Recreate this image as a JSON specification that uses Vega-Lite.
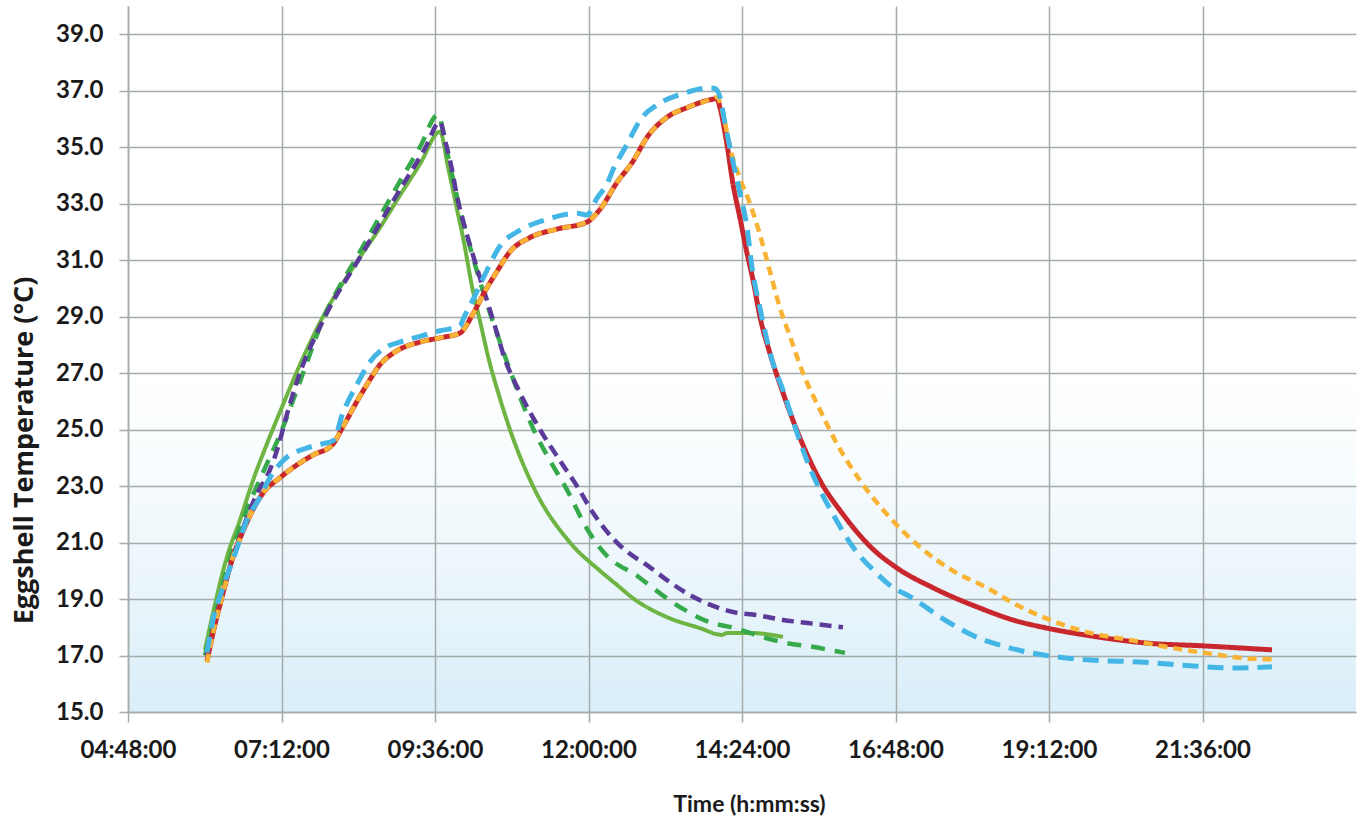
{
  "$schema": "https://vega.github.io/schema/vega-lite/v6.json",
  "width": 1228,
  "height": 706,
  "autosize": {"type": "none"},
  "padding": {"left": 128, "top": 6, "right": 9, "bottom": 106},
  "background": "#ffffff",
  "config": {
    "view": {"stroke": null, "fill": {"gradient": "linear", "x1": 0, "y1": 0, "x2": 0, "y2": 1, "stops": [{"offset": 0, "color": "#ffffff"}, {"offset": 0.5, "color": "#ffffff"}, {"offset": 0.62, "color": "#fafdfe"}, {"offset": 0.75, "color": "#f0f8fc"}, {"offset": 0.88, "color": "#e5f3fa"}, {"offset": 1, "color": "#d9eef8"}]}},
    "axis": {"grid": true, "gridColor": "#a4acac", "gridWidth": 1.5, "domainColor": "#a4acac", "domainWidth": 1.5, "tickColor": "#a4acac", "tickWidth": 1.5, "labelFont": "Lato", "labelFontWeight": "bold", "labelFontSize": 24, "labelColor": "#1a1a1a", "titleFont": "Lato", "titleFontWeight": "bold", "titleColor": "#1a1a1a", "labelFlush": false, "labelOverlap": false}
  },
  "data": {"values": [
    {"s":"S1","t":6.004,"v":17.2},{"s":"S1","t":6.129,"v":18.5},{"s":"S1","t":6.348,"v":20.5},{"s":"S1","t":6.551,"v":21.8},{"s":"S1","t":6.754,"v":23.2},{"s":"S1","t":6.973,"v":24.5},{"s":"S1","t":7.208,"v":25.8},{"s":"S1","t":7.489,"v":27.3},{"s":"S1","t":7.849,"v":29.0},{"s":"S1","t":8.396,"v":31.0},{"s":"S1","t":8.740,"v":32.15},{"s":"S1","t":9.053,"v":33.3},{"s":"S1","t":9.365,"v":34.4},{"s":"S1","t":9.678,"v":35.55},{"s":"S1","t":9.803,"v":34.3},{"s":"S1","t":9.944,"v":32.8},{"s":"S1","t":10.038,"v":31.8},{"s":"S1","t":10.194,"v":29.9},{"s":"S1","t":10.303,"v":28.85},{"s":"S1","t":10.429,"v":27.6},{"s":"S1","t":10.616,"v":26.1},{"s":"S1","t":10.772,"v":25.0},{"s":"S1","t":11.132,"v":23.0},{"s":"S1","t":11.711,"v":21.0},{"s":"S1","t":12.180,"v":20.0},{"s":"S1","t":12.445,"v":19.5},{"s":"S1","t":12.695,"v":19.03},{"s":"S1","t":13.227,"v":18.36},{"s":"S1","t":13.743,"v":17.97},{"s":"S1","t":14.087,"v":17.73},{"s":"S1","t":14.165,"v":17.8},{"s":"S1","t":14.525,"v":17.8},{"s":"S1","t":15.041,"v":17.66},
    {"s":"S2","t":6.004,"v":17.0},{"s":"S2","t":6.160,"v":18.4},{"s":"S2","t":6.363,"v":20.2},{"s":"S2","t":6.629,"v":22.0},{"s":"S2","t":6.895,"v":23.4},{"s":"S2","t":7.208,"v":25.0},{"s":"S2","t":7.489,"v":26.7},{"s":"S2","t":7.849,"v":28.9},{"s":"S2","t":8.427,"v":31.3},{"s":"S2","t":8.740,"v":32.55},{"s":"S2","t":9.053,"v":33.8},{"s":"S2","t":9.365,"v":35.0},{"s":"S2","t":9.647,"v":36.15},{"s":"S2","t":9.725,"v":35.6},{"s":"S2","t":9.803,"v":34.7},{"s":"S2","t":9.913,"v":33.55},{"s":"S2","t":9.991,"v":32.8},{"s":"S2","t":10.100,"v":31.85},{"s":"S2","t":10.225,"v":30.85},{"s":"S2","t":10.303,"v":30.25},{"s":"S2","t":10.413,"v":29.45},{"s":"S2","t":10.569,"v":28.4},{"s":"S2","t":10.694,"v":27.6},{"s":"S2","t":10.772,"v":27.1},{"s":"S2","t":10.929,"v":26.15},{"s":"S2","t":11.163,"v":24.9},{"s":"S2","t":11.398,"v":23.9},{"s":"S2","t":11.632,"v":23.0},{"s":"S2","t":12.0,"v":21.4},{"s":"S2","t":12.258,"v":20.6},{"s":"S2","t":12.773,"v":19.8},{"s":"S2","t":13.149,"v":19.15},{"s":"S2","t":13.477,"v":18.65},{"s":"S2","t":13.868,"v":18.2},{"s":"S2","t":14.290,"v":17.97},{"s":"S2","t":14.728,"v":17.65},{"s":"S2","t":15.103,"v":17.44},{"s":"S2","t":15.526,"v":17.3},{"s":"S2","t":15.948,"v":17.12},{"s":"S2","t":16.010,"v":17.1},
    {"s":"S3","t":6.035,"v":17.0},{"s":"S3","t":6.160,"v":18.2},{"s":"S3","t":6.363,"v":19.9},{"s":"S3","t":6.629,"v":21.7},{"s":"S3","t":6.833,"v":22.8},{"s":"S3","t":7.005,"v":23.5},{"s":"S3","t":7.161,"v":24.5},{"s":"S3","t":7.255,"v":25.3},{"s":"S3","t":7.442,"v":26.7},{"s":"S3","t":7.880,"v":29.0},{"s":"S3","t":8.427,"v":31.1},{"s":"S3","t":9.053,"v":33.5},{"s":"S3","t":9.444,"v":34.95},{"s":"S3","t":9.678,"v":35.9},{"s":"S3","t":9.756,"v":35.25},{"s":"S3","t":9.866,"v":34.2},{"s":"S3","t":9.944,"v":33.25},{"s":"S3","t":10.038,"v":32.4},{"s":"S3","t":10.178,"v":31.3},{"s":"S3","t":10.272,"v":30.6},{"s":"S3","t":10.382,"v":29.8},{"s":"S3","t":10.491,"v":29.0},{"s":"S3","t":10.585,"v":28.3},{"s":"S3","t":10.663,"v":27.7},{"s":"S3","t":10.929,"v":26.3},{"s":"S3","t":11.242,"v":25.0},{"s":"S3","t":11.554,"v":23.9},{"s":"S3","t":11.820,"v":23.0},{"s":"S3","t":12.086,"v":22.0},{"s":"S3","t":12.445,"v":21.0},{"s":"S3","t":12.648,"v":20.6},{"s":"S3","t":12.914,"v":20.2},{"s":"S3","t":13.227,"v":19.67},{"s":"S3","t":13.540,"v":19.2},{"s":"S3","t":13.899,"v":18.8},{"s":"S3","t":14.259,"v":18.54},{"s":"S3","t":14.634,"v":18.43},{"s":"S3","t":15.041,"v":18.26},{"s":"S3","t":15.432,"v":18.15},{"s":"S3","t":15.979,"v":18.0},
    {"s":"S4","t":6.035,"v":16.8},{"s":"S4","t":6.129,"v":17.8},{"s":"S4","t":6.285,"v":19.2},{"s":"S4","t":6.442,"v":20.5},{"s":"S4","t":6.598,"v":21.4},{"s":"S4","t":6.739,"v":22.1},{"s":"S4","t":6.911,"v":22.75},{"s":"S4","t":7.177,"v":23.3},{"s":"S4","t":7.442,"v":23.75},{"s":"S4","t":7.692,"v":24.1},{"s":"S4","t":7.989,"v":24.45},{"s":"S4","t":8.161,"v":25.1},{"s":"S4","t":8.380,"v":26.0},{"s":"S4","t":8.537,"v":26.6},{"s":"S4","t":8.740,"v":27.3},{"s":"S4","t":8.975,"v":27.75},{"s":"S4","t":9.365,"v":28.1},{"s":"S4","t":9.678,"v":28.25},{"s":"S4","t":9.991,"v":28.42},{"s":"S4","t":10.194,"v":29.1},{"s":"S4","t":10.382,"v":29.9},{"s":"S4","t":10.569,"v":30.6},{"s":"S4","t":10.772,"v":31.3},{"s":"S4","t":11.085,"v":31.8},{"s":"S4","t":11.507,"v":32.1},{"s":"S4","t":11.976,"v":32.35},{"s":"S4","t":12.180,"v":32.8},{"s":"S4","t":12.445,"v":33.75},{"s":"S4","t":12.695,"v":34.5},{"s":"S4","t":12.915,"v":35.35},{"s":"S4","t":13.227,"v":36.06},{"s":"S4","t":13.540,"v":36.4},{"s":"S4","t":13.946,"v":36.7},{"s":"S4","t":14.009,"v":36.72},{"s":"S4","t":14.056,"v":36.4},{"s":"S4","t":14.165,"v":35.1},{"s":"S4","t":14.259,"v":33.7},{"s":"S4","t":14.368,"v":32.5},{"s":"S4","t":14.478,"v":31.25},{"s":"S4","t":14.572,"v":30.3},{"s":"S4","t":14.681,"v":29.0},{"s":"S4","t":14.837,"v":27.7},{"s":"S4","t":15.041,"v":26.3},{"s":"S4","t":15.307,"v":24.7},{"s":"S4","t":15.619,"v":23.2},{"s":"S4","t":15.979,"v":22.0},{"s":"S4","t":16.432,"v":20.8},{"s":"S4","t":16.823,"v":20.1},{"s":"S4","t":17.386,"v":19.4},{"s":"S4","t":18.121,"v":18.68},{"s":"S4","t":18.637,"v":18.26},{"s":"S4","t":19.168,"v":17.97},{"s":"S4","t":19.841,"v":17.7},{"s":"S4","t":20.732,"v":17.44},{"s":"S4","t":21.623,"v":17.34},{"s":"S4","t":22.686,"v":17.2},
    {"s":"S5","t":6.035,"v":16.75},{"s":"S5","t":6.129,"v":17.8},{"s":"S5","t":6.285,"v":19.2},{"s":"S5","t":6.442,"v":20.5},{"s":"S5","t":6.598,"v":21.4},{"s":"S5","t":6.739,"v":22.1},{"s":"S5","t":6.911,"v":22.75},{"s":"S5","t":7.177,"v":23.3},{"s":"S5","t":7.442,"v":23.75},{"s":"S5","t":7.692,"v":24.1},{"s":"S5","t":7.989,"v":24.45},{"s":"S5","t":8.161,"v":25.1},{"s":"S5","t":8.380,"v":26.0},{"s":"S5","t":8.537,"v":26.6},{"s":"S5","t":8.740,"v":27.3},{"s":"S5","t":8.975,"v":27.75},{"s":"S5","t":9.365,"v":28.1},{"s":"S5","t":9.678,"v":28.25},{"s":"S5","t":9.991,"v":28.42},{"s":"S5","t":10.194,"v":29.1},{"s":"S5","t":10.382,"v":29.9},{"s":"S5","t":10.569,"v":30.6},{"s":"S5","t":10.772,"v":31.3},{"s":"S5","t":11.085,"v":31.8},{"s":"S5","t":11.507,"v":32.1},{"s":"S5","t":11.976,"v":32.35},{"s":"S5","t":12.180,"v":32.8},{"s":"S5","t":12.445,"v":33.75},{"s":"S5","t":12.695,"v":34.5},{"s":"S5","t":12.915,"v":35.35},{"s":"S5","t":13.227,"v":36.06},{"s":"S5","t":13.540,"v":36.4},{"s":"S5","t":13.946,"v":36.72},{"s":"S5","t":14.009,"v":36.77},{"s":"S5","t":14.103,"v":36.2},{"s":"S5","t":14.212,"v":35.0},{"s":"S5","t":14.368,"v":33.9},{"s":"S5","t":14.525,"v":33.0},{"s":"S5","t":14.681,"v":31.9},{"s":"S5","t":14.837,"v":30.6},{"s":"S5","t":14.994,"v":29.3},{"s":"S5","t":15.150,"v":28.3},{"s":"S5","t":15.354,"v":27.0},{"s":"S5","t":15.619,"v":25.7},{"s":"S5","t":15.885,"v":24.5},{"s":"S5","t":16.245,"v":23.2},{"s":"S5","t":16.666,"v":22.0},{"s":"S5","t":17.183,"v":20.84},{"s":"S5","t":17.699,"v":20.0},{"s":"S5","t":18.230,"v":19.4},{"s":"S5","t":18.637,"v":18.86},{"s":"S5","t":19.215,"v":18.26},{"s":"S5","t":19.841,"v":17.8},{"s":"S5","t":20.466,"v":17.55},{"s":"S5","t":21.044,"v":17.3},{"s":"S5","t":21.623,"v":17.1},{"s":"S5","t":22.295,"v":16.9},{"s":"S5","t":22.686,"v":16.87},
    {"s":"S6","t":6.035,"v":17.1},{"s":"S6","t":6.129,"v":18.26},{"s":"S6","t":6.285,"v":19.4},{"s":"S6","t":6.473,"v":20.6},{"s":"S6","t":6.660,"v":21.8},{"s":"S6","t":6.864,"v":22.6},{"s":"S6","t":7.020,"v":23.3},{"s":"S6","t":7.223,"v":23.9},{"s":"S6","t":7.599,"v":24.35},{"s":"S6","t":7.849,"v":24.5},{"s":"S6","t":8.005,"v":24.6},{"s":"S6","t":8.161,"v":25.6},{"s":"S6","t":8.380,"v":26.6},{"s":"S6","t":8.584,"v":27.4},{"s":"S6","t":8.818,"v":27.9},{"s":"S6","t":9.053,"v":28.1},{"s":"S6","t":9.365,"v":28.3},{"s":"S6","t":9.678,"v":28.5},{"s":"S6","t":9.991,"v":28.66},{"s":"S6","t":10.038,"v":28.9},{"s":"S6","t":10.194,"v":29.6},{"s":"S6","t":10.382,"v":30.5},{"s":"S6","t":10.616,"v":31.5},{"s":"S6","t":10.929,"v":32.06},{"s":"S6","t":11.288,"v":32.4},{"s":"S6","t":11.820,"v":32.66},{"s":"S6","t":11.976,"v":32.6},{"s":"S6","t":12.133,"v":33.2},{"s":"S6","t":12.289,"v":33.7},{"s":"S6","t":12.383,"v":34.2},{"s":"S6","t":12.602,"v":35.1},{"s":"S6","t":12.805,"v":35.95},{"s":"S6","t":13.118,"v":36.56},{"s":"S6","t":13.477,"v":36.9},{"s":"S6","t":13.899,"v":37.1},{"s":"S6","t":13.978,"v":37.08},{"s":"S6","t":14.056,"v":36.77},{"s":"S6","t":14.134,"v":35.85},{"s":"S6","t":14.243,"v":34.65},{"s":"S6","t":14.368,"v":33.37},{"s":"S6","t":14.478,"v":32.17},{"s":"S6","t":14.556,"v":30.75},{"s":"S6","t":14.681,"v":29.3},{"s":"S6","t":14.884,"v":27.35},{"s":"S6","t":15.041,"v":26.4},{"s":"S6","t":15.228,"v":25.1},{"s":"S6","t":15.416,"v":23.9},{"s":"S6","t":15.619,"v":22.86},{"s":"S6","t":15.823,"v":22.0},{"s":"S6","t":16.135,"v":20.84},{"s":"S6","t":16.510,"v":19.9},{"s":"S6","t":16.666,"v":19.57},{"s":"S6","t":17.089,"v":19.0},{"s":"S6","t":17.543,"v":18.3},{"s":"S6","t":18.121,"v":17.6},{"s":"S6","t":18.543,"v":17.3},{"s":"S6","t":18.903,"v":17.1},{"s":"S6","t":19.325,"v":16.95},{"s":"S6","t":19.841,"v":16.84},{"s":"S6","t":20.622,"v":16.77},{"s":"S6","t":21.451,"v":16.63},{"s":"S6","t":22.076,"v":16.56},{"s":"S6","t":22.686,"v":16.6}
  ]},
  "mark": {"type": "line", "interpolate": "monotone", "strokeJoin": "round"},
  "encoding": {
    "x": {"field": "t", "type": "quantitative", "scale": {"domain": [4.8, 24], "nice": false, "zero": false},
      "axis": {"values": [4.8, 7.2, 9.6, 12, 14.4, 16.8, 19.2, 21.6], "labelExpr": "utcFormat(datum.value * 3600000, '%H:%M:%S')", "tickSize": 10, "labelPadding": 16, "title": "Time (h:mm:ss)", "titleFontSize": 23, "titleX": 621, "titleY": 99, "titleAlign": "center", "titleBaseline": "alphabetic"}},
    "y": {"field": "v", "type": "quantitative", "scale": {"domain": [15, 40], "nice": false, "zero": false},
      "axis": {"values": [15, 17, 19, 21, 23, 25, 27, 29, 31, 33, 35, 37, 39], "format": ".1f", "tickSize": 9, "labelPadding": 16, "title": "Eggshell Temperature (°C)", "titleFont": "Open Sans", "titleFontSize": 27, "titleAngle": -90, "titleX": -96, "titleY": 444, "titleAlign": "center", "titleBaseline": "alphabetic"}},
    "color": {"field": "s", "type": "nominal", "scale": {"domain": ["S1", "S2", "S3", "S4", "S5", "S6"], "range": ["#6db443", "#36a94b", "#5b3b9a", "#c8272d", "#f8b334", "#44b6e6"]}, "legend": null},
    "strokeDash": {"field": "s", "type": "nominal", "scale": {"domain": ["S1", "S2", "S3", "S4", "S5", "S6"], "range": [[1, 0], [14, 10], [12, 7], [1, 0], [9, 6], [16, 9]]}, "legend": null},
    "strokeWidth": {"field": "s", "type": "nominal", "scale": {"type": "ordinal", "domain": ["S1", "S2", "S3", "S4", "S5", "S6"], "range": [4, 4.5, 4.5, 5, 4.5, 5]}, "legend": null}
  }
}
